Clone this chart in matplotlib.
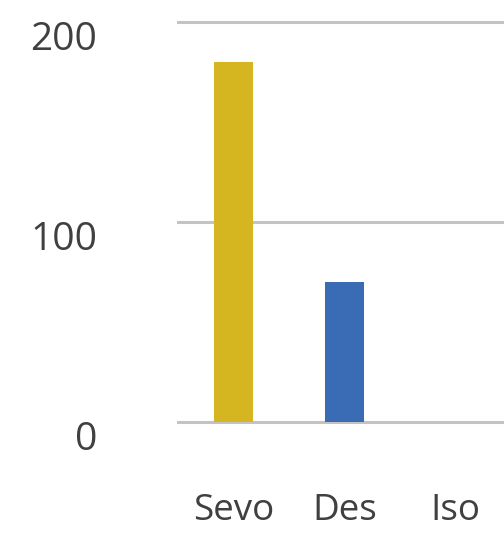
import matplotlib.pyplot as plt
import matplotlib.transforms as mtransforms

agents = ["Sevo", "Des", "Iso"]
values = [180, 70, 0]
colors = ["#D5B621", "#3A6CB6"]
y_ticks = [0, 100, 200]

plt.rcParams["font.family"] = ["Open Sans", "DejaVu Sans"]

fig = plt.figure(figsize=(5.04, 5.42), dpi=100)
# axes run past the right edge of the figure, Iso column is cut off
ax = fig.add_axes([178 / 504, 120 / 542, 333 / 504, 400 / 542])

ax.bar(range(len(agents)), values, width=0.36,
       color=colors + ["#A5A5A5"], zorder=3)

ax.set_xlim(-0.5, 2.5)
ax.set_ylim(0, 200)
ax.set_yticks(y_ticks)
ax.set_xticks(range(len(agents)))
ax.set_xticklabels(agents)
ax.yaxis.grid(True, color="#C3C3C3", linewidth=2.2)
for gl in ax.get_ygridlines():
    gl.set_clip_on(False)
ax.set_axisbelow(True)
for s in ax.spines.values():
    s.set_visible(False)
ax.tick_params(axis="both", length=0, colors="#404040")
ax.tick_params(axis="y", pad=58, labelsize=28)
ax.tick_params(axis="x", pad=51, labelsize=26.5)

shift = mtransforms.ScaledTranslation(0, -13 / 100, fig.dpi_scale_trans)
for lbl in ax.get_yticklabels():
    lbl.set_transform(lbl.get_transform() + shift)

fig.savefig("out.png", dpi=100)
